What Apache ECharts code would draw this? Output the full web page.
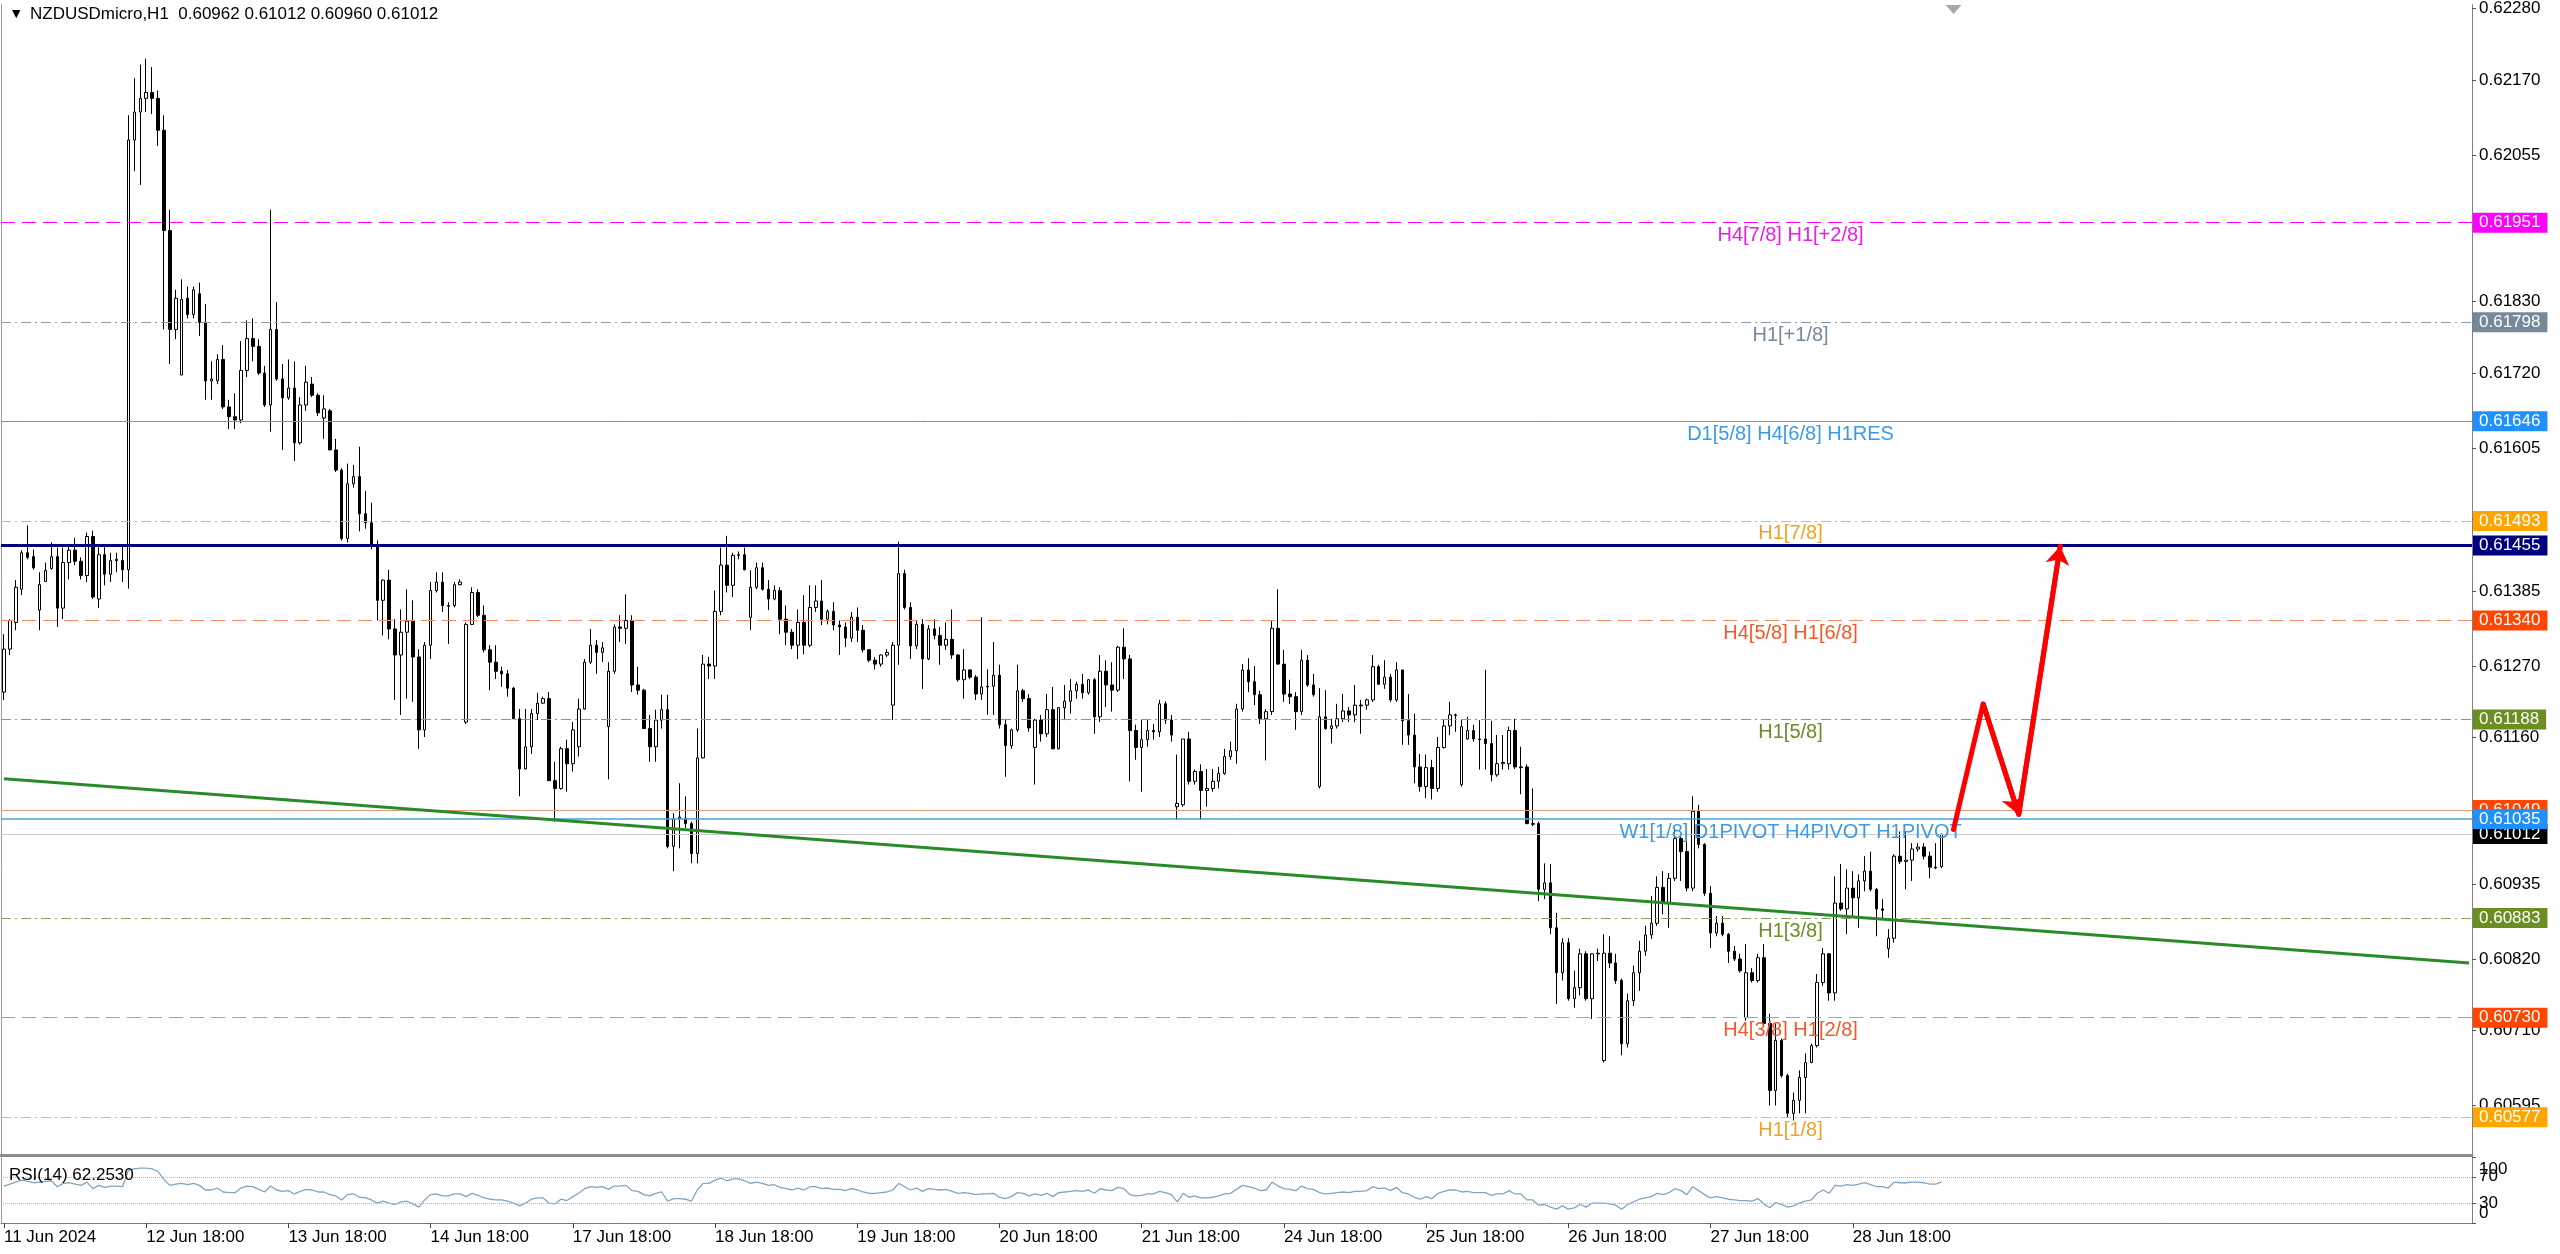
<!DOCTYPE html>
<html><head><meta charset="utf-8">
<script src="https://cdn.jsdelivr.net/npm/echarts@6/dist/echarts.min.js"></script>
<style>html,body{margin:0;padding:0;background:#fff;overflow:hidden}#c{width:2560px;height:1254px}</style>
</head><body><div id="c"></div>
<script>
const symbolName = 'NZDUSDmicro,H1';
const lastOHLC = [0.60962, 0.61012, 0.60960, 0.61012];
const rsiCaption = 'RSI(14) 62.2530';
const tickLabels = ['11 Jun 2024','12 Jun 18:00','13 Jun 18:00','14 Jun 18:00','17 Jun 18:00','18 Jun 18:00','19 Jun 18:00','20 Jun 18:00','21 Jun 18:00','24 Jun 18:00','25 Jun 18:00','26 Jun 18:00','27 Jun 18:00','28 Jun 18:00'];
const priceTicks = [0.62280,0.62170,0.62055,0.61945,0.61830,0.61720,0.61605,0.61495,0.61385,0.61270,0.61160,0.61045,0.60935,0.60820,0.60710,0.60595];
const rsiTicks = [0,30,70,100];
const rsiInnerTicks = [30,70];
const rsiOuterTicks = [0,100];
const rsiLevels = [70,30];

const openP = [
0.61230,0.61296,0.61337,0.61388,0.61444,0.61438,0.61356,0.61400,0.61420,0.61438,
0.61359,0.61429,0.61448,0.61431,0.61409,0.61469,0.61373,0.61441,0.61411,0.61432,
0.61432,0.61418,0.62078,0.62121,0.62142,0.62151,0.62142,0.62093,0.61939,0.61787,
0.61717,0.61835,0.61810,0.61842,0.61798,0.61708,0.61708,0.61741,0.61668,0.61653,
0.61648,0.61724,0.61773,0.61761,0.61720,0.61671,0.61787,0.61711,0.61682,0.61697,
0.61613,0.61671,0.61703,0.61686,0.61651,0.61662,0.61602,0.61571,0.61466,0.61550,
0.61561,0.61504,0.61490,0.61454,0.61371,0.61402,0.61327,0.61287,0.61322,0.61339,
0.61284,0.61172,0.61302,0.61386,0.61399,0.61363,0.61363,0.61395,0.61184,0.61334,
0.61383,0.61348,0.61295,0.61276,0.61262,0.61258,0.61236,0.61189,0.61112,0.61146,
0.61197,0.61213,0.61220,0.61094,0.61082,0.61143,0.61120,0.61146,0.61204,0.61276,
0.61302,0.61291,0.61177,0.61262,0.61330,0.61328,0.61340,0.61241,0.61233,0.61174,
0.61146,0.61187,0.61203,0.60993,0.61036,0.61036,0.61028,0.60982,0.61129,0.61273,
0.61270,0.61354,0.61425,0.61394,0.61440,0.61441,0.61345,0.61391,0.61421,0.61388,
0.61373,0.61386,0.61342,0.61322,0.61302,0.61337,0.61302,0.61360,0.61370,0.61342,
0.61354,0.61333,0.61330,0.61313,0.61345,0.61325,0.61295,0.61279,0.61273,0.61287,
0.61210,0.61302,0.61412,0.61360,0.61301,0.61334,0.61281,0.61327,0.61317,0.61302,
0.61311,0.61287,0.61249,0.61264,0.61253,0.61227,0.61238,0.61239,0.61256,0.61180,
0.61148,0.61172,0.61232,0.61220,0.61145,0.61187,0.61166,0.61203,0.61143,0.61206,
0.61216,0.61232,0.61242,0.61229,0.61249,0.61192,0.61262,0.61241,0.61233,0.61299,
0.61281,0.61171,0.61145,0.61157,0.61171,0.61169,0.61212,0.61187,0.61054,0.61057,
0.61158,0.61093,0.61108,0.61079,0.61082,0.61093,0.61105,0.61131,0.61140,0.61204,
0.61264,0.61246,0.61226,0.61189,0.61200,0.61328,0.61273,0.61227,0.61223,0.61200,
0.61279,0.61241,0.61085,0.61192,0.61174,0.61178,0.61189,0.61201,0.61195,0.61210,
0.61210,0.61218,0.61269,0.61242,0.61253,0.61218,0.61264,0.61186,0.61164,0.61115,
0.61085,0.61114,0.61082,0.61145,0.61178,0.61195,0.61088,0.61158,0.61171,0.61158,
0.61158,0.61151,0.61103,0.61120,0.61120,0.61171,0.61115,0.61115,0.61028,0.61028,
0.60927,0.60937,0.60868,0.60799,0.60845,0.60759,0.60776,0.60828,0.60759,0.60828,
0.60664,0.60829,0.60814,0.60787,0.60690,0.60756,0.60799,0.60832,0.60857,0.60875,
0.60930,0.60906,0.60944,0.61005,0.60985,0.60929,0.61047,0.60996,0.60921,0.60860,
0.60875,0.60858,0.60832,0.60820,0.60730,0.60799,0.60787,0.60822,0.60721,0.60618,
0.60695,0.60641,0.60583,0.60603,0.60638,0.60661,0.60687,0.60784,0.60828,0.60768,
0.60906,0.60897,0.60929,0.60914,0.60940,0.60955,0.60927,0.60897,0.60836,0.60852,
0.60978,0.60970,0.60972,0.60989,0.60992,0.60978,0.60961,0.60962];

const closeP = [
0.61296,0.61340,0.61391,0.61444,0.61437,0.61421,0.61395,0.61417,0.61438,0.61359,
0.61429,0.61448,0.61431,0.61409,0.61469,0.61376,0.61441,0.61411,0.61432,0.61434,
0.61418,0.62078,0.62121,0.62142,0.62151,0.62142,0.62093,0.61939,0.61787,0.61835,
0.61833,0.61810,0.61848,0.61798,0.61708,0.61711,0.61741,0.61668,0.61653,0.61648,
0.61724,0.61773,0.61761,0.61720,0.61671,0.61787,0.61711,0.61682,0.61697,0.61613,
0.61671,0.61706,0.61686,0.61659,0.61665,0.61602,0.61571,0.61466,0.61550,0.61561,
0.61504,0.61490,0.61454,0.61371,0.61402,0.61327,0.61287,0.61322,0.61339,0.61284,
0.61172,0.61302,0.61386,0.61399,0.61363,0.61362,0.61395,0.61399,0.61334,0.61383,
0.61348,0.61295,0.61276,0.61262,0.61258,0.61236,0.61189,0.61112,0.61146,0.61197,
0.61213,0.61220,0.61094,0.61082,0.61143,0.61120,0.61172,0.61204,0.61276,0.61302,
0.61291,0.61298,0.61262,0.61330,0.61328,0.61340,0.61241,0.61233,0.61174,0.61146,
0.61187,0.61203,0.60993,0.61036,0.61038,0.61028,0.60982,0.61129,0.61273,0.61270,
0.61354,0.61425,0.61394,0.61440,0.61441,0.61418,0.61391,0.61421,0.61388,0.61373,
0.61386,0.61342,0.61322,0.61302,0.61337,0.61302,0.61360,0.61370,0.61342,0.61354,
0.61333,0.61330,0.61313,0.61345,0.61325,0.61295,0.61279,0.61273,0.61287,0.61291,
0.61302,0.61412,0.61360,0.61301,0.61334,0.61281,0.61327,0.61317,0.61302,0.61311,
0.61287,0.61249,0.61264,0.61253,0.61227,0.61238,0.61239,0.61256,0.61180,0.61148,
0.61172,0.61232,0.61220,0.61175,0.61187,0.61166,0.61203,0.61143,0.61206,0.61216,
0.61232,0.61242,0.61229,0.61249,0.61192,0.61262,0.61241,0.61233,0.61299,0.61281,
0.61171,0.61145,0.61157,0.61171,0.61169,0.61212,0.61187,0.61164,0.61059,0.61158,
0.61093,0.61108,0.61079,0.61082,0.61093,0.61105,0.61131,0.61140,0.61204,0.61264,
0.61246,0.61226,0.61189,0.61200,0.61328,0.61273,0.61227,0.61223,0.61200,0.61279,
0.61241,0.61226,0.61192,0.61174,0.61178,0.61189,0.61201,0.61195,0.61210,0.61209,
0.61218,0.61269,0.61242,0.61253,0.61218,0.61264,0.61186,0.61164,0.61115,0.61085,
0.61114,0.61082,0.61145,0.61178,0.61195,0.61194,0.61177,0.61171,0.61158,0.61157,
0.61151,0.61103,0.61120,0.61122,0.61171,0.61115,0.61114,0.61028,0.61027,0.60927,
0.60937,0.60868,0.60799,0.60845,0.60759,0.60776,0.60828,0.60759,0.60828,0.60829,
0.60829,0.60814,0.60787,0.60690,0.60756,0.60799,0.60832,0.60857,0.60875,0.60930,
0.60906,0.60944,0.61005,0.60985,0.60929,0.61047,0.60996,0.60921,0.60860,0.60875,
0.60858,0.60832,0.60820,0.60802,0.60799,0.60787,0.60822,0.60721,0.60618,0.60695,
0.60641,0.60583,0.60603,0.60638,0.60661,0.60687,0.60784,0.60828,0.60768,0.60906,
0.60897,0.60929,0.60914,0.60940,0.60955,0.60927,0.60897,0.60895,0.60852,0.60978,
0.60970,0.60972,0.60989,0.60992,0.60978,0.60961,0.60960,0.61012];

const lowP = [
0.61218,0.61287,0.61325,0.61379,0.61434,0.61418,0.61325,0.61399,0.61418,0.61330,
0.61342,0.61403,0.61425,0.61403,0.61399,0.61373,0.61359,0.61394,0.61399,0.61414,
0.61399,0.61389,0.62030,0.62009,0.62121,0.62118,0.62069,0.61787,0.61734,0.61772,
0.61717,0.61804,0.61804,0.61777,0.61679,0.61679,0.61703,0.61665,0.61634,0.61634,
0.61643,0.61714,0.61738,0.61717,0.61668,0.61630,0.61708,0.61602,0.61679,0.61585,
0.61610,0.61662,0.61683,0.61654,0.61619,0.61602,0.61568,0.61463,0.61460,0.61544,
0.61477,0.61481,0.61449,0.61340,0.61317,0.61311,0.61218,0.61195,0.61220,0.61215,
0.61143,0.61161,0.61281,0.61383,0.61353,0.61304,0.61360,0.61394,0.61181,0.61333,
0.61345,0.61291,0.61233,0.61250,0.61238,0.61223,0.61189,0.61070,0.61111,0.61135,
0.61187,0.61212,0.61093,0.61031,0.61080,0.61077,0.61108,0.61131,0.61203,0.61273,
0.61258,0.61276,0.61096,0.61258,0.61307,0.61304,0.61230,0.61226,0.61174,0.61123,
0.61123,0.61174,0.60990,0.60955,0.60990,0.61021,0.60967,0.60967,0.61128,0.61250,
0.61250,0.61348,0.61383,0.61376,0.61434,0.61417,0.61325,0.61388,0.61386,0.61356,
0.61371,0.61319,0.61302,0.61296,0.61281,0.61288,0.61299,0.61353,0.61333,0.61334,
0.61325,0.61287,0.61299,0.61307,0.61307,0.61291,0.61276,0.61265,0.61269,0.61284,
0.61187,0.61272,0.61357,0.61281,0.61296,0.61235,0.61279,0.61311,0.61272,0.61295,
0.61281,0.61246,0.61220,0.61250,0.61218,0.61218,0.61195,0.61195,0.61174,0.61100,
0.61143,0.61169,0.61215,0.61169,0.61088,0.61154,0.61161,0.61142,0.61142,0.61187,
0.61197,0.61220,0.61220,0.61226,0.61166,0.61184,0.61207,0.61200,0.61230,0.61250,
0.61093,0.61126,0.61077,0.61146,0.61157,0.61161,0.61181,0.61154,0.61034,0.61054,
0.61088,0.61088,0.61034,0.61054,0.61077,0.61082,0.61103,0.61126,0.61120,0.61200,
0.61230,0.61210,0.61181,0.61125,0.61195,0.61272,0.61215,0.61212,0.61172,0.61195,
0.61238,0.61223,0.61082,0.61172,0.61151,0.61174,0.61184,0.61184,0.61184,0.61166,
0.61203,0.61215,0.61241,0.61235,0.61215,0.61215,0.61149,0.61149,0.61090,0.61077,
0.61067,0.61065,0.61077,0.61143,0.61164,0.61169,0.61085,0.61157,0.61154,0.61111,
0.61111,0.61093,0.61100,0.61111,0.61111,0.61112,0.61073,0.61027,0.61024,0.60909,
0.60912,0.60858,0.60751,0.60787,0.60756,0.60745,0.60764,0.60756,0.60728,0.60817,
0.60661,0.60806,0.60782,0.60672,0.60684,0.60748,0.60771,0.60825,0.60851,0.60871,
0.60889,0.60868,0.60940,0.60940,0.60924,0.60924,0.60990,0.60917,0.60837,0.60855,
0.60855,0.60814,0.60817,0.60799,0.60725,0.60784,0.60784,0.60718,0.60595,0.60595,
0.60638,0.60577,0.60572,0.60583,0.60583,0.60660,0.60684,0.60779,0.60756,0.60756,
0.60894,0.60858,0.60883,0.60868,0.60924,0.60924,0.60855,0.60883,0.60822,0.60845,
0.60966,0.60927,0.60940,0.60985,0.60973,0.60944,0.60958,0.60960];

const highP = [
0.61319,0.61342,0.61402,0.61448,0.61486,0.61449,0.61414,0.61429,0.61460,0.61452,
0.61452,0.61457,0.61467,0.61437,0.61475,0.61478,0.61455,0.61457,0.61444,0.61444,
0.61457,0.62116,0.62173,0.62194,0.62203,0.62190,0.62154,0.62116,0.61971,0.61848,
0.61864,0.61853,0.61853,0.61859,0.61826,0.61738,0.61749,0.61763,0.61679,0.61689,
0.61769,0.61801,0.61804,0.61772,0.61731,0.61971,0.61829,0.61734,0.61741,0.61738,
0.61683,0.61731,0.61714,0.61689,0.61686,0.61665,0.61619,0.61574,0.61581,0.61579,
0.61607,0.61539,0.61521,0.61463,0.61403,0.61418,0.61342,0.61357,0.61388,0.61371,
0.61296,0.61307,0.61399,0.61414,0.61414,0.61368,0.61399,0.61403,0.61337,0.61391,
0.61388,0.61363,0.61302,0.61302,0.61269,0.61264,0.61238,0.61204,0.61204,0.61204,
0.61229,0.61223,0.61230,0.61123,0.61146,0.61157,0.61184,0.61220,0.61281,0.61327,
0.61310,0.61307,0.61276,0.61334,0.61348,0.61380,0.61348,0.61269,0.61235,0.61195,
0.61203,0.61226,0.61226,0.61044,0.61090,0.61070,0.61031,0.61174,0.61287,0.61284,
0.61386,0.61452,0.61470,0.61444,0.61446,0.61452,0.61417,0.61429,0.61429,0.61402,
0.61394,0.61391,0.61363,0.61327,0.61357,0.61379,0.61394,0.61394,0.61402,0.61357,
0.61368,0.61340,0.61337,0.61353,0.61360,0.61333,0.61296,0.61284,0.61288,0.61296,
0.61307,0.61461,0.61418,0.61368,0.61340,0.61342,0.61333,0.61342,0.61330,0.61337,
0.61357,0.61288,0.61296,0.61265,0.61256,0.61345,0.61265,0.61307,0.61272,0.61189,
0.61174,0.61272,0.61235,0.61227,0.61189,0.61195,0.61227,0.61238,0.61207,0.61241,
0.61250,0.61246,0.61258,0.61250,0.61252,0.61287,0.61279,0.61276,0.61301,0.61328,
0.61287,0.61180,0.61187,0.61187,0.61181,0.61218,0.61216,0.61195,0.61134,0.61158,
0.61169,0.61111,0.61119,0.61112,0.61112,0.61115,0.61143,0.61154,0.61212,0.61273,
0.61282,0.61270,0.61232,0.61204,0.61339,0.61388,0.61295,0.61249,0.61230,0.61295,
0.61287,0.61258,0.61236,0.61233,0.61189,0.61212,0.61227,0.61207,0.61241,0.61218,
0.61220,0.61287,0.61272,0.61279,0.61258,0.61276,0.61264,0.61227,0.61197,0.61135,
0.61134,0.61126,0.61161,0.61187,0.61215,0.61197,0.61187,0.61192,0.61180,0.61187,
0.61264,0.61186,0.61164,0.61164,0.61177,0.61189,0.61146,0.61119,0.61082,0.61031,
0.60967,0.60966,0.60891,0.60852,0.60852,0.60802,0.60836,0.60832,0.60829,0.60836,
0.60858,0.60855,0.60828,0.60790,0.60767,0.60810,0.60848,0.60871,0.60917,0.60947,
0.60955,0.60952,0.61021,0.61008,0.61016,0.61070,0.61057,0.60998,0.60932,0.60886,
0.60886,0.60860,0.60840,0.60828,0.60843,0.60806,0.60828,0.60843,0.60736,0.60721,
0.60698,0.60644,0.60615,0.60649,0.60675,0.60690,0.60797,0.60837,0.60829,0.60947,
0.60966,0.60958,0.60955,0.60950,0.60978,0.60985,0.60929,0.60912,0.60866,0.60981,
0.61016,0.61016,0.60998,0.60998,0.60998,0.60985,0.60998,0.61012];

const rsiValues = [
56,59,62,65,63,61,62,63,64,55,60,61,59,57,62,52,57,54,56,56,55,
80,82,83,83,82,78,
66,57,59,60,58,60,57,50,
50,53,47,46,46,53,56,55,51,47,
56,50,48,49,44,48,51,50,47,47,
43,41,35,43,44,39,38,35,30,33,
30,28,32,33,29,24,35,43,44,41,41,44,44,
40,45,42,38,36,35,35,33,30,26,30,36,
38,38,30,29,36,34,40,45,52,55,54,55,
51,56,56,57,49,48,43,41,45,47,33,37,
37,36,33,50,60,60,65,68,64,67,67,64,
60,62,60,57,58,54,52,50,53,50,55,55,
52,53,51,51,49,52,50,47,45,45,46,47,
50,60,55,50,53,48,52,51,50,51,48,45,
46,45,43,44,44,45,39,37,40,46,45,41,
44,42,45,40,46,47,48,49,48,50,45,52,
50,49,54,52,43,41,42,44,44,48,46,43,
32,45,39,41,38,38,39,41,44,45,51,57,
55,53,49,50,62,56,52,51,49,56,52,51,
46,44,45,46,47,46,48,48,49,55,52,53,
49,54,46,44,39,36,40,37,45,48,50,50,
47,48,46,46,46,42,44,44,49,44,44,35,
35,27,28,24,21,26,21,23,28,24,30,30,
30,29,27,21,28,32,36,38,40,45,43,46,
52,49,43,55,49,43,38,40,38,36,35,34,
34,33,37,29,23,31,28,24,26,30,33,35,
45,50,45,57,56,58,57,59,61,58,55,55,
53,62,61,61,62,62,61,59,59,62.253];

// horizontal levels drawn on the chart
const levelPrices = [0.61951,0.61798,0.61646,0.61493,0.61455,0.61340,0.61188,0.61049,0.61012,0.61035,0.60883,0.60730,0.60577];
const levelTexts = ['H4[7/8] H1[+2/8]','H1[+1/8]','D1[5/8] H4[6/8] H1RES','H1[7/8]','','H4[5/8] H1[6/8]','H1[5/8]','','','W1[1/8] D1PIVOT H4PIVOT H1PIVOT','H1[3/8]','H4[3/8] H1[2/8]','H1[1/8]'];
// trend line anchors [bar index, price] and hand-drawn red path
const trendLine = [[0,0.61097],[416,0.60814]];
const redPath = [[329,0.61019],[334,0.61212],[340,0.61042],[347,0.61454]];

// ---------- styles ----------
const FONT = '"Liberation Sans", Arial, sans-serif';
const DASH = [14,7], DASHDOT = [10,4,2,4];
const levelStyles = [
  {line:'#ff00ff', tag:'#ff00ff', text:'#e61ee6', type:DASH, w:1},
  {line:'#8a97a6', tag:'#778899', text:'#778899', type:DASHDOT, w:1},
  {line:'#4aa3e0', tag:'#1e90ff', text:'#3c9be6', type:'solid', w:1},
  {line:'#f2b450', tag:'#ffa500', text:'#f0a228', type:DASHDOT, w:1},
  {line:'#000080', tag:'#000080', text:'#000080', type:'solid', w:3},
  {line:'#f08a60', tag:'#ff4500', text:'#f05a28', type:DASH, w:1},
  {line:'#8aa060', tag:'#6b8e23', text:'#6b8e23', type:DASHDOT, w:1},
  {line:'#d8a080', tag:'#ff4500', text:'#ff4500', type:'solid', w:1},
  {line:'#c8c8c8', tag:'#000000', text:'#000000', type:'solid', w:1},
  {line:'#4aa3e0', tag:'#1e90ff', text:'#3c9be6', type:'solid', w:1.5},
  {line:'#8aa060', tag:'#6b8e23', text:'#6b8e23', type:DASHDOT, w:1},
  {line:'#f08a60', tag:'#ff4500', text:'#f05a28', type:DASH, w:1},
  {line:'#f2b450', tag:'#ffa500', text:'#f0a228', type:DASHDOT, w:1}
];

const N = 417;
const categories = Array.from({length:N}, (_, i) => String(i));
const candles = openP.map((o, i) => [o, closeP[i], Math.min(lowP[i], o, closeP[i]), Math.max(highP[i], o, closeP[i])]);
const yMin = 0.60519, yMax = 0.62286;

const levelLines = levelPrices.map((p, i) => ({
  yAxis: p,
  lineStyle: {color: levelStyles[i].line, type: levelStyles[i].type, width: levelStyles[i].w},
  label: {show: true, position: 'end', distance: 1, formatter: p.toFixed(5),
          backgroundColor: levelStyles[i].tag, color: '#fff', fontSize: 17, fontFamily: FONT,
          padding: [2, 7, 1, 6]}
}));
const levelLabels = [];
levelPrices.forEach((p, i) => {
  if (!levelTexts[i]) return;
  levelLabels.push([
    {coord: [280, p], lineStyle: {color: 'rgba(0,0,0,0)', width: 0},
     label: {show: true, position: 'insideMiddleBottom', distance: 3, formatter: levelTexts[i],
             color: levelStyles[i].text, fontSize: 20, fontFamily: FONT}},
    {coord: [323, p]}
  ]);
});

const tickEvery = 24;
const showTick = (idx) => idx % tickEvery === 0 && idx / tickEvery < tickLabels.length;
const rsiLabelBase = {margin: 7, fontSize: 17, color: '#000', fontFamily: FONT};

const chart = echarts.init(document.getElementById('c'), null, {renderer: 'canvas'});
chart.setOption({
  animation: false,
  backgroundColor: '#ffffff',
  textStyle: {fontFamily: FONT},
  title: [
    {text: '\u25BC', left: 7, top: 4, textStyle: {fontSize: 11, color: '#000', fontWeight: 'normal', fontFamily: 'DejaVu Sans'}},
    {text: symbolName + '  ' + lastOHLC.map(v => v.toFixed(5)).join(' '), left: 25, top: 1,
     textStyle: {fontSize: 17, color: '#000', fontWeight: 'normal', fontFamily: FONT}},
    {text: rsiCaption, left: 4, top: 1162, textStyle: {fontSize: 17, color: '#000', fontWeight: 'normal', fontFamily: FONT}}
  ],
  grid: [
    {left: 1, right: 88, top: 0, height: 1155},
    {left: 1, right: 88, top: 1157, height: 66}
  ],
  xAxis: [
    {type: 'category', gridIndex: 0, data: categories, boundaryGap: true,
     axisLine: {show: true, onZero: false, lineStyle: {color: '#8c8c8c', width: 3}},
     axisTick: {show: false}, axisLabel: {show: false}, splitLine: {show: false}},
    {type: 'category', gridIndex: 1, data: categories, boundaryGap: true,
     axisLine: {show: true, onZero: false, lineStyle: {color: '#7a7a7a', width: 1}},
     axisTick: {show: true, interval: showTick, alignWithLabel: true, length: 5, lineStyle: {color: '#444'}},
     axisLabel: {show: true, interval: showTick, align: 'left', margin: 6, fontSize: 17, color: '#000', fontFamily: FONT,
                 formatter: (v, idx) => tickLabels[idx / tickEvery] || ''},
     splitLine: {show: false}}
  ],
  yAxis: [
    {type: 'value', gridIndex: 0, position: 'right', min: yMin, max: yMax, scale: true,
     axisLine: {show: true, lineStyle: {color: '#808080', width: 1}},
     axisTick: {show: true, length: 4, customValues: priceTicks, lineStyle: {color: '#555'}},
     axisLabel: {show: true, customValues: priceTicks, showMinLabel: true, showMaxLabel: true, margin: 7, fontSize: 17, color: '#000', fontFamily: FONT,
                 formatter: v => v.toFixed(5)},
     splitLine: {show: false}},
    {type: 'value', gridIndex: 0, position: 'left', min: yMin, max: yMax, scale: true,
     axisLine: {show: true, lineStyle: {color: '#9a9a9a', width: 1}},
     axisTick: {show: false}, axisLabel: {show: false}, splitLine: {show: false}},
    {type: 'value', gridIndex: 1, position: 'right', min: 0, max: 100,
     axisLine: {show: true, lineStyle: {color: '#808080', width: 1}},
     axisTick: {show: true, length: 4, customValues: rsiTicks, lineStyle: {color: '#555'}},
     axisLabel: Object.assign({show: true, customValues: rsiInnerTicks}, rsiLabelBase),
     splitLine: {show: false}},
    {type: 'value', gridIndex: 1, position: 'left', min: 0, max: 100,
     axisLine: {show: true, lineStyle: {color: '#9a9a9a', width: 1}},
     axisTick: {show: false}, axisLabel: {show: false}, splitLine: {show: false}},
    {type: 'value', gridIndex: 1, position: 'right', min: 0, max: 100,
     axisLine: {show: false}, axisTick: {show: false}, splitLine: {show: false},
     axisLabel: Object.assign({show: true, customValues: rsiOuterTicks, showMinLabel: true, showMaxLabel: true,
                 formatter: v => v === 100 ? '{t|100}' : '{b|0}',
                 rich: {t: {padding: [25, 0, 0, 0], fontSize: 17}, b: {padding: [0, 0, 19, 0], fontSize: 17}}}, rsiLabelBase)}
  ],
  series: [
    {
      type: 'candlestick', name: symbolName, xAxisIndex: 0, yAxisIndex: 0, data: candles,
      barWidth: 3, z: 2,
      itemStyle: {color: '#ffffff', color0: '#000000', borderColor: '#000000', borderColor0: '#000000', borderWidth: 1},
      emphasis: {disabled: true},
      markLine: {silent: true, symbol: ['none', 'none'], animation: false, precision: 5, z: 3,
                 data: levelLines.concat(levelLabels)}
    },
    {
      type: 'line', name: 'trend', xAxisIndex: 0, yAxisIndex: 0, data: trendLine, z: 4,
      showSymbol: false, symbol: 'none', silent: true,
      lineStyle: {color: '#2a8a2a', width: 3}
    },
    {
      type: 'line', name: 'path', xAxisIndex: 0, yAxisIndex: 0, data: redPath, z: 5,
      showSymbol: false, symbol: 'none', silent: true,
      lineStyle: {color: '#ff0000', width: 5, join: 'round', cap: 'round'},
      markLine: {silent: true, animation: false, precision: 5, symbol: ['none', 'arrow'], symbolSize: 18,
                 lineStyle: {color: '#ff0000', width: 5, type: 'solid'}, label: {show: false},
                 data: [[{coord: redPath[1]}, {coord: redPath[2]}], [{coord: redPath[2]}, {coord: redPath[3]}]]},
      markPoint: {silent: true, animation: false,
                  data: [{coord: [329, yMax], symbol: 'triangle', symbolRotate: 180, symbolSize: [16, 9], symbolOffset: [0, 5],
                          itemStyle: {color: '#a8a8a8'}, label: {show: false}}]}
    },
    {
      type: 'line', name: 'RSI(14)', xAxisIndex: 1, yAxisIndex: 2, data: rsiValues, z: 3,
      showSymbol: false, symbol: 'none', silent: true,
      lineStyle: {color: '#7ea6c4', width: 1.3},
      markLine: {silent: true, animation: false, symbol: ['none', 'none'], label: {show: false},
                 lineStyle: {color: '#b5b5b5', type: 'dotted', width: 1},
                 data: rsiLevels.map(v => ({yAxis: v}))}
    }
  ]
});
</script>
</body></html>
